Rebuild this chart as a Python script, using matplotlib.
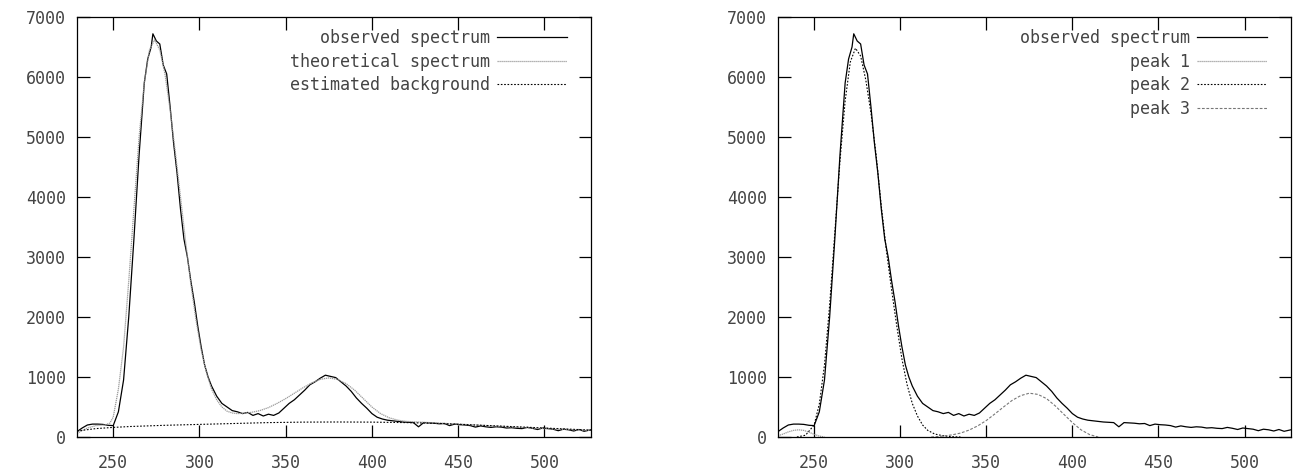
import matplotlib
matplotlib.use("Agg")
import matplotlib.pyplot as plt

# ---------------- data ----------------
obs_x = [229, 232, 235, 238, 241, 244, 247, 250, 253, 256, 259, 262, 265, 268, 270, 272, 273,
         275, 277, 279, 281, 283, 285, 287, 289, 291, 293, 295, 297, 299, 301, 303, 305, 307,
         310, 313, 316, 319, 322, 325, 328, 331, 334, 337, 340, 343, 346, 349, 352, 355, 358,
         361, 364, 367, 370, 373, 376, 379, 382, 385, 388, 391, 394, 397, 400, 403, 406, 409,
         412, 415, 418, 421, 424, 427, 430, 433, 436, 439, 442, 445, 448, 451, 454, 457, 460,
         463, 466, 469, 472, 475, 478, 481, 484, 487, 490, 493, 496, 499, 502, 505, 508, 511,
         514, 517, 520, 523, 527]
obs_y = [90, 150, 200, 215, 215, 210, 195, 190, 420, 950, 2000, 3300, 4700, 5900, 6300, 6500, 6720,
         6600, 6550, 6200, 6050, 5500, 4900, 4400, 3800, 3300, 3000, 2600, 2250, 1850, 1500, 1200, 1000, 850,
         680, 560, 500, 440, 420, 390, 410, 360, 390, 350, 380, 360, 400, 480, 560, 620, 700,
         780, 870, 920, 980, 1030, 1010, 990, 920, 850, 760, 650, 560, 480, 390, 330, 300, 280,
         270, 260, 250, 245, 240, 170, 240, 235, 230, 220, 225, 190, 215, 205, 200, 190, 165,
         185, 170, 160, 170, 165, 150, 155, 145, 140, 160, 145, 125, 150, 140, 130, 105, 130,
         120, 100, 125, 95, 120]

theo_x = [229, 235, 240, 245, 248, 250, 253, 256, 259, 262, 265, 268, 271, 274, 277, 280, 283,
          286, 289, 292, 295, 298, 301, 304, 307, 310, 313, 316, 319, 322, 325, 330, 335, 340,
          345, 350, 355, 360, 365, 370, 375, 380, 385, 390, 395, 400, 405, 410, 415, 420, 430,
          440, 450, 460, 470, 480, 490, 500, 510, 520, 527]
theo_y = [60, 150, 190, 200, 230, 330, 800, 1500, 2600, 3800, 5000, 5900, 6450, 6620, 6450, 6050, 5450,
          4750, 4000, 3250, 2550, 1950, 1450, 1080, 800, 620, 500, 430, 400, 390, 395, 410, 440, 490,
          560, 640, 730, 820, 900, 960, 985, 960, 890, 780, 640, 500, 390, 320, 280, 260, 245,
          230, 215, 200, 185, 170, 155, 140, 130, 118, 110]

bg_x = [229, 240, 250, 260, 280, 300, 320, 340, 360, 380, 400, 420, 440, 460, 480, 500, 515, 527]
bg_y = [100, 140, 160, 175, 195, 210, 225, 240, 248, 250, 248, 240, 225, 200, 175, 150, 130, 115]

p1_x = [229, 232, 235, 238, 241, 244, 247, 250, 253, 256]
p1_y = [20, 50, 85, 110, 120, 110, 80, 45, 15, 0]

p2_x = [240, 245, 250, 253, 256, 259, 262, 265, 268, 271, 274, 277, 280, 283, 286, 289, 292,
        295, 298, 301, 304, 307, 310, 313, 316, 320, 325, 330, 335]
p2_y = [0, 30, 200, 550, 1200, 2200, 3400, 4600, 5600, 6250, 6480, 6350, 5950, 5400, 4700, 3850, 3100,
        2450, 1850, 1300, 870, 560, 350, 200, 110, 50, 20, 5, 0]

p3_x = [318, 322, 326, 330, 335, 340, 345, 350, 355, 360, 365, 370, 375, 380, 385, 390, 395,
        400, 405, 410, 415]
p3_y = [0, 8, 20, 35, 65, 115, 185, 275, 385, 500, 610, 690, 730, 710, 640, 520, 380,
        240, 120, 40, 0]

x_ticks = [250, 300, 350, 400, 450, 500]
y_ticks = [0, 1000, 2000, 3000, 4000, 5000, 6000, 7000]

# ---------------- style ----------------
FONT = "DejaVu Sans Mono"
FS = 12
TXT = "#444444"
plt.rcParams["font.family"] = FONT

W, H = 1304, 473
fig = plt.figure(figsize=(W / 100, H / 100), dpi=100)

def ax_rect(x0, x1, y0, y1):
    return [x0 / W, (H - y1) / H, (x1 - x0) / W, (y1 - y0) / H]

axL = fig.add_axes(ax_rect(77, 591, 17, 437))
axR = fig.add_axes(ax_rect(778, 1291, 17, 437))

for ax in (axL, axR):
    ax.set_xlim(229, 527)
    ax.set_ylim(0, 7000)
    ax.set_xticks(x_ticks)
    ax.set_yticks(y_ticks)
    ax.tick_params(direction="in", length=9, width=0.9, top=True, right=True,
                   labelsize=FS, labelcolor=TXT, color="black")
    ax.tick_params(axis="x", pad=12)
    ax.tick_params(axis="y", pad=8)
    for s in ax.spines.values():
        s.set_linewidth(0.9)
        s.set_color("black")

# left panel
axL.plot(obs_x, obs_y, color="black", lw=0.9, label="observed spectrum")
axL.plot(theo_x, theo_y, color="#9a9a9a", lw=0.9, linestyle=(0, (1, 0.6)), label="theoretical spectrum")
axL.plot(bg_x, bg_y, color="black", lw=0.8, linestyle=(0, (1.5, 1.5)), label="estimated background")

# right panel
axR.plot(obs_x, obs_y, color="black", lw=0.9, label="observed spectrum")
axR.plot(p1_x, p1_y, color="#9a9a9a", lw=0.9, linestyle=(0, (1, 0.6)), label="peak 1")
axR.plot(p2_x, p2_y, color="black", lw=0.8, linestyle=(0, (1.5, 1.5)), label="peak 2")
axR.plot(p3_x, p3_y, color="#777777", lw=0.8, linestyle=(0, (2.5, 1.5)), label="peak 3")

for ax in (axL, axR):
    leg = ax.legend(loc="upper right", bbox_to_anchor=(1 - 24 / 514, 1 - 12 / 420),
                    frameon=False, markerfirst=False, fontsize=FS, handlelength=4.2,
                    handletextpad=0.4, labelspacing=0.33, borderaxespad=0, borderpad=0)
    for t in leg.get_texts():
        t.set_color(TXT)

fig.savefig("out.png", dpi=100)
